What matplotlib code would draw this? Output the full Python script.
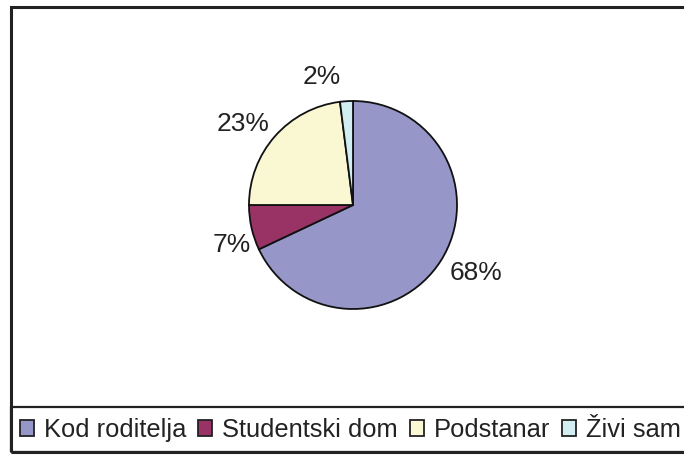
import numpy as np
import matplotlib.pyplot as plt
from matplotlib.patches import Rectangle

plt.rcParams['font.family'] = ['Liberation Sans', 'DejaVu Sans']

categories = ["Kod roditelja", "Studentski dom", "Podstanar", "Živi sam"]
values = [68, 7, 23, 2]
colors = ["#9696C8", "#993366", "#FAF8D2", "#D2EEF2"]

fig = plt.figure(figsize=(6.84, 4.55), dpi=100)
W, H = 684, 455

# outer chart frame and legend box (pixel -> figure fraction)
fig.patches.append(Rectangle((10.5 / W, 1 - 452 / H), 1.0, (452 - 6.5) / H,
                             transform=fig.transFigure, fill=False,
                             edgecolor="#222222", lw=2.2, clip_on=False))
fig.patches.append(Rectangle((10.5 / W, 1 - 452 / H), 1.0, (452 - 407) / H,
                             transform=fig.transFigure, fill=False,
                             edgecolor="#222222", lw=1.6, clip_on=False))

# pie: centre (353, 205) px, radius 104 px
cx, cy, r = 353, 205, 104
ax = fig.add_axes([(cx - r) / W, 1 - (cy + r) / H, 2 * r / W, 2 * r / H])
wedges, texts = ax.pie(values, colors=colors, startangle=90, counterclock=False,
                       labels=[f"{v}%" for v in values], labeldistance=1.1,
                       wedgeprops=dict(edgecolor="#111111", linewidth=1.3),
                       textprops=dict(fontsize=19, color="#222222"))
ax.set_xlim(-1, 1)
ax.set_ylim(-1, 1)
ax.set_aspect("equal")
ax.axis("off")

# Excel-style label nudges
texts[0].set_va("top")
texts[0].set_position((texts[0].get_position()[0], texts[0].get_position()[1] + 0.05))
texts[1].set_va("top")
texts[1].set_position((texts[1].get_position()[0] + 0.09, texts[1].get_position()[1] - 0.03))
texts[2].set_position((texts[2].get_position()[0] + 0.02, texts[2].get_position()[1] + 0.05))
texts[3].set_position((-0.3, 1.23))
texts[3].set_ha("center")
texts[3].set_va("center")

leg = fig.legend(wedges, categories, loc="center left",
                 bbox_to_anchor=(20 / W, 1 - 430 / H), ncol=4, frameon=False,
                 fontsize=18.4, handlelength=0.55, handleheight=0.55,
                 handletextpad=0.4, columnspacing=0.45, borderpad=0,
                 borderaxespad=0)
for h in leg.legend_handles:
    h.set_linewidth(1.3)
    h.set_edgecolor("#222222")
for t in leg.get_texts():
    t.set_color("#222222")

fig.savefig("out.png", dpi=100)
